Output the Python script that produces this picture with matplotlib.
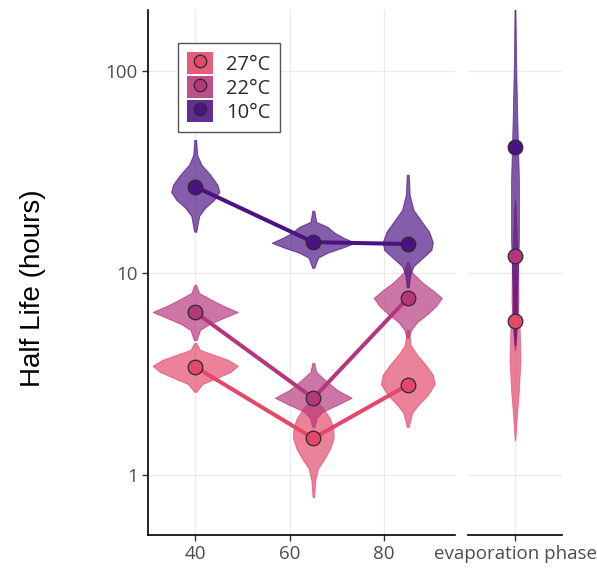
import matplotlib
matplotlib.use("Agg")
import matplotlib.pyplot as plt
from matplotlib.patches import Patch
from matplotlib.lines import Line2D
from matplotlib.ticker import NullLocator

# groups, drawn in this order
temps = ['27°C', '22°C', '10°C']
colors = ['#e3476a', '#b5367a', '#4b1283']

x_pos = [40, 65, 85]
half_life = {
    '27°C': [3.43, 1.52, 2.79],
    '22°C': [6.4, 2.4, 7.5],
    '10°C': [26.7, 14.2, 13.9],
}
evap_half_life = {'27°C': 5.8, '22°C': 12.1, '10°C': 42}

# violin outlines: y in hours, half width in x units
violin_y_27 = [
    [4.50, 4.16, 3.93, 3.71, 3.47, 3.24, 3.02, 2.82, 2.58],
    [2.35, 2.15, 1.91, 1.71, 1.53, 1.36, 1.21, 1.08, 0.945, 0.778],
    [5.22, 4.40, 3.93, 3.51, 3.13, 2.82, 2.49, 2.22, 2.03, 1.73],
]
violin_w_27 = [
    [0.2, 1.0, 4.0, 7.0, 9.0, 7.5, 4.5, 1.5, 0.2],
    [0.5, 2.0, 3.5, 4.2, 4.3, 3.6, 2.4, 1.0, 0.4, 0.15],
    [0.2, 0.6, 2.0, 3.8, 5.3, 5.7, 4.2, 2.2, 0.9, 0.2],
]
violin_y_22 = [
    [8.72, 7.96, 7.35, 6.87, 6.41, 5.99, 5.59, 5.22, 4.66],
    [3.58, 3.24, 2.95, 2.64, 2.41, 2.22, 2.05, 1.91, 1.73],
    [11.3, 10.1, 8.92, 8.14, 7.52, 6.87, 6.27, 5.72, 5.22, 4.77],
]
violin_w_22 = [
    [0.2, 0.8, 3.5, 6.0, 9.0, 6.0, 3.0, 1.0, 0.3],
    [0.2, 0.6, 2.5, 5.0, 8.1, 5.0, 1.8, 0.7, 0.2],
    [0.2, 0.8, 3.2, 5.5, 7.2, 6.0, 4.2, 2.0, 0.7, 0.2],
]
violin_y_10 = [
    [45.5, 38.4, 34.3, 30.6, 27.3, 25.2, 23.0, 21.0, 19.2, 16.0],
    [20.3, 17.9, 16.9, 15.8, 14.9, 14.1, 13.3, 12.6, 11.9, 10.6],
    [30.6, 24.3, 20.5, 17.9, 16.0, 14.2, 13.0, 11.9, 10.8, 9.8, 8.5],
]
violin_w_10 = [
    [0.2, 0.4, 1.3, 3.2, 4.7, 5.1, 4.0, 2.1, 0.85, 0.2],
    [0.2, 0.6, 3.0, 4.5, 6.5, 8.8, 6.0, 3.0, 1.0, 0.2],
    [0.2, 0.4, 1.2, 3.0, 4.5, 5.3, 5.0, 3.2, 1.2, 0.5, 0.2],
]
violin_y = {'27°C': violin_y_27, '22°C': violin_y_22, '10°C': violin_y_10}
violin_w = {'27°C': violin_w_27, '22°C': violin_w_22, '10°C': violin_w_10}

# evaporation phase violins
evap_y = {
    '27°C': [10.3, 7.35, 5.22, 3.71, 2.64, 1.98, 1.49],
    '22°C': [23.0, 16.3, 11.6, 7.35, 5.22, 4.16],
    '10°C': [203, 113, 57.2, 28.9, 14.6, 8.24, 5.22, 4.40],
}
evap_w = {
    '27°C': [0.004, 0.03, 0.06, 0.07, 0.05, 0.025, 0.004],
    '22°C': [0.004, 0.02, 0.04, 0.045, 0.025, 0.004],
    '10°C': [0.006, 0.014, 0.03, 0.05, 0.05, 0.03, 0.015, 0.004],
}

tick_font = 'Open Sans'
tick_color = '#4d4d4d'

fig = plt.figure(figsize=(5.97, 5.71), dpi=100)
ax = fig.add_axes([148/597, 1 - 535/571, 307/597, 525/571])
ax2 = fig.add_axes([468/597, 1 - 535/571, 94/597, 525/571], sharey=ax)

for a in (ax, ax2):
    a.set_yscale('log')
    a.set_facecolor('white')
    a.grid(True, color='#ebebeb', lw=0.9, zorder=0)
    a.set_axisbelow(True)
    for s in ('top', 'right'):
        a.spines[s].set_visible(False)
    a.spines['bottom'].set_linewidth(1.2)
    a.spines['left'].set_linewidth(1.2)
    a.tick_params(length=4, width=1, color='#333333', labelcolor=tick_color,
                  labelsize=13.5)

ax.set_ylim(0.505, 200)
ax.set_xlim(30, 95)
ax.set_yticks([1, 10, 100])
ax.set_yticklabels(['1', '10', '100'])
ax.yaxis.set_minor_locator(NullLocator())
ax.set_xticks([40, 60, 80])
ax.set_xticklabels(['40', '60', '80'])

ax2.spines['left'].set_visible(False)
ax2.set_xlim(0.4, 1.6)
ax2.set_xticks([1])
ax2.set_xticklabels(['evaporation phase'])
ax2.tick_params(axis='y', left=False, labelleft=False)

for a in (ax, ax2):
    for lab in a.get_xticklabels() + a.get_yticklabels():
        lab.set_family(tick_font)

for t, c in zip(temps, colors):
    for xp, ys, ws in zip(x_pos, violin_y[t], violin_w[t]):
        ax.fill_betweenx(ys, [xp - w for w in ws], [xp + w for w in ws],
                         facecolor=c, alpha=0.68, edgecolor=c, lw=0.8, zorder=2)
    ys = evap_y[t]
    ws = evap_w[t]
    ax2.fill_betweenx(ys, [1 - w for w in ws], [1 + w for w in ws],
                      facecolor=c, alpha=0.7, edgecolor=c, lw=0.6, zorder=2)

for t, c in zip(temps, colors):
    ax.plot(x_pos, half_life[t], color=c, lw=2.9, zorder=3, solid_capstyle='butt')
    ax.plot(x_pos, half_life[t], 'o', ms=10.5, mfc=c, mec='#2b2b2b', mew=0.9,
            zorder=4)
    ax2.plot([1], [evap_half_life[t]], 'o', ms=10.5, mfc=c, mec='#2b2b2b',
             mew=0.9, zorder=4)

handles = []
for c in colors:
    handles.append((Patch(facecolor=c, alpha=0.88, edgecolor='none'),
                    Line2D([], [], marker='o', ls='none', ms=9, mfc=c,
                           mec='#2b2b2b', mew=0.9)))
leg = ax.legend(handles, temps, loc='upper left', bbox_to_anchor=(0.098, 0.937),
                borderaxespad=0, handlelength=1.3, handleheight=1.3,
                labelspacing=0.06, borderpad=0.45, handletextpad=0.65,
                fancybox=False, framealpha=1, edgecolor='#555555',
                prop={'family': tick_font, 'size': 14.5})
leg.get_frame().set_linewidth(1.0)
for txt in leg.get_texts():
    txt.set_color('#2b2b2b')

fig.text(33/597, 1 - 288/571, 'Half Life (hours)', rotation=90, ha='center',
         va='center', fontsize=20, family='Liberation Sans', color='black')

fig.savefig('out.png', dpi=100)
